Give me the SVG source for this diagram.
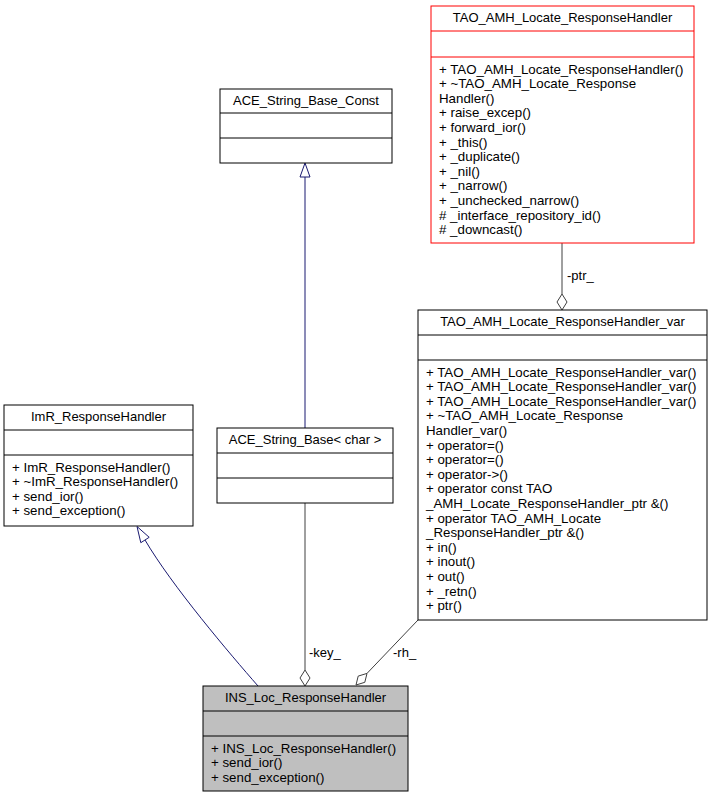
<svg xmlns="http://www.w3.org/2000/svg" width="712" height="797" viewBox="0 0 712 797">
<style>
  text { font-family: "Liberation Sans", Arial, sans-serif; font-size: 13.3px; fill: #000; }
  .title { text-anchor: middle; font-size: 13px; }
  .box { fill: #fff; stroke: #000; stroke-width: 1; }
  .sep { stroke: #000; stroke-width: 1; }
  .red .box { stroke: #ff0000; }
  .red .sep { stroke: #ff0000; }
  .cur .box { fill: #bfbfbf; stroke: #000; }
  .inh { fill: none; stroke: #191970; stroke-width: 1; }
  .inhhead { fill: #fff; stroke: #191970; stroke-width: 1; }
  .use { fill: none; stroke: #404040; stroke-width: 1; }
  .usehead { fill: #fff; stroke: #404040; stroke-width: 1; }
  .lbl { font-size: 13px; }
</style>
<rect width="712" height="797" fill="#fff"/>

<g id="connectors">
  <line class="inh" x1="305" y1="428" x2="305" y2="177"/>
  <polygon class="inhhead" points="305,163 300,177 310,177"/>
  <path class="inh" d="M258,686 C230,654 172,586 145,540"/>
  <polygon class="inhhead" points="137,526.5 149.2,537.3 140.8,542.7"/>
  <line class="use" x1="305" y1="503" x2="305" y2="670"/>
  <polygon class="usehead" points="305,686 300,678 305,670 310,678"/>
  <text class="lbl" x="309" y="657">-key_</text>
  <line class="use" x1="418" y1="620" x2="367" y2="673.4"/>
  <polygon class="usehead" points="356,685 358.2,676.1 367,673.4 364.8,682.3"/>
  <text class="lbl" x="393" y="657">-rh_</text>
  <line class="use" x1="562" y1="243" x2="562" y2="294"/>
  <polygon class="usehead" points="562,310 557,302 562,294 567,302"/>
  <text class="lbl" x="567" y="280">-ptr_</text>
</g>

<g id="TAO_AMH_Locate_ResponseHandler" class="red">
  <rect class="box" x="431" y="6" width="263" height="237"/>
  <line class="sep" x1="431" y1="31" x2="694" y2="31"/>
  <line class="sep" x1="431" y1="57" x2="694" y2="57"/>
  <text class="title" x="562.5" y="22">TAO_AMH_Locate_ResponseHandler</text>
  <text x="439" y="73.5">+ TAO_AMH_Locate_ResponseHandler()</text>
  <text x="439" y="88.1">+ ~TAO_AMH_Locate_Response</text>
  <text x="439" y="102.7">Handler()</text>
  <text x="439" y="117.3">+ raise_excep()</text>
  <text x="439" y="131.9">+ forward_ior()</text>
  <text x="439" y="146.5">+ _this()</text>
  <text x="439" y="161.1">+ _duplicate()</text>
  <text x="439" y="175.7">+ _nil()</text>
  <text x="439" y="190.3">+ _narrow()</text>
  <text x="439" y="204.9">+ _unchecked_narrow()</text>
  <text x="439" y="219.5"># _interface_repository_id()</text>
  <text x="439" y="234.1"># _downcast()</text>
</g>

<g id="TAO_AMH_Locate_ResponseHandler_var">
  <rect class="box" x="418" y="310" width="289" height="310"/>
  <line class="sep" x1="418" y1="335" x2="707" y2="335"/>
  <line class="sep" x1="418" y1="360" x2="707" y2="360"/>
  <text class="title" x="562.5" y="326">TAO_AMH_Locate_ResponseHandler_var</text>
  <text x="426" y="376.5">+ TAO_AMH_Locate_ResponseHandler_var()</text>
  <text x="426" y="391.1">+ TAO_AMH_Locate_ResponseHandler_var()</text>
  <text x="426" y="405.7">+ TAO_AMH_Locate_ResponseHandler_var()</text>
  <text x="426" y="420.3">+ ~TAO_AMH_Locate_Response</text>
  <text x="426" y="434.9">Handler_var()</text>
  <text x="426" y="449.5">+ operator=()</text>
  <text x="426" y="464.1">+ operator=()</text>
  <text x="426" y="478.7">+ operator-&gt;()</text>
  <text x="426" y="493.3">+ operator const TAO</text>
  <text x="426" y="507.9">_AMH_Locate_ResponseHandler_ptr &amp;()</text>
  <text x="426" y="522.5">+ operator TAO_AMH_Locate</text>
  <text x="426" y="537.1">_ResponseHandler_ptr &amp;()</text>
  <text x="426" y="551.7">+ in()</text>
  <text x="426" y="566.3">+ inout()</text>
  <text x="426" y="580.9">+ out()</text>
  <text x="426" y="595.5">+ _retn()</text>
  <text x="426" y="610.1">+ ptr()</text>
</g>

<g id="ACE_String_Base_Const">
  <rect class="box" x="220" y="89" width="172" height="74"/>
  <line class="sep" x1="220" y1="113" x2="392" y2="113"/>
  <line class="sep" x1="220" y1="138" x2="392" y2="138"/>
  <text class="title" x="306" y="105">ACE_String_Base_Const</text>
</g>

<g id="ACE_String_Base_char">
  <rect class="box" x="217" y="428" width="176" height="75"/>
  <line class="sep" x1="217" y1="453" x2="393" y2="453"/>
  <line class="sep" x1="217" y1="478" x2="393" y2="478"/>
  <text class="title" x="305" y="444">ACE_String_Base&lt; char &gt;</text>
</g>

<g id="ImR_ResponseHandler">
  <rect class="box" x="4" y="405" width="189" height="121"/>
  <line class="sep" x1="4" y1="430" x2="193" y2="430"/>
  <line class="sep" x1="4" y1="455" x2="193" y2="455"/>
  <text class="title" x="98.5" y="421">ImR_ResponseHandler</text>
  <text x="12" y="471.5">+ ImR_ResponseHandler()</text>
  <text x="12" y="486.1">+ ~ImR_ResponseHandler()</text>
  <text x="12" y="500.7">+ send_ior()</text>
  <text x="12" y="515.3">+ send_exception()</text>
</g>

<g id="INS_Loc_ResponseHandler" class="cur">
  <rect class="box" x="203" y="686" width="205" height="105"/>
  <line class="sep" x1="203" y1="711" x2="408" y2="711"/>
  <line class="sep" x1="203" y1="736" x2="408" y2="736"/>
  <text class="title" x="305.5" y="702">INS_Loc_ResponseHandler</text>
  <text x="211" y="752.5">+ INS_Loc_ResponseHandler()</text>
  <text x="211" y="767.1">+ send_ior()</text>
  <text x="211" y="781.7">+ send_exception()</text>
</g>
</svg>
